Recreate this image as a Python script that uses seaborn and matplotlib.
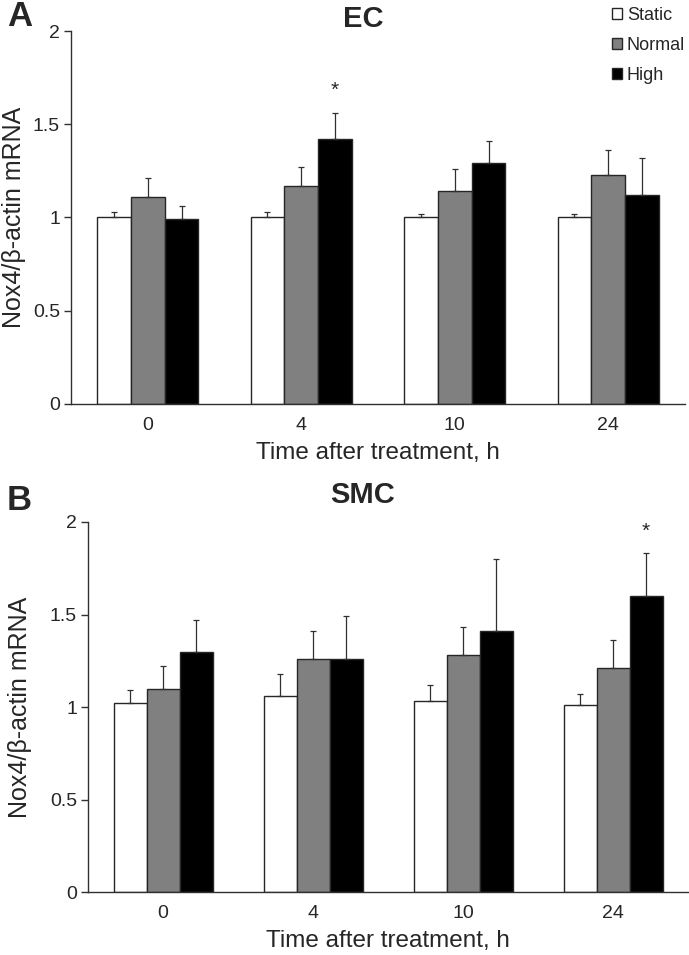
import numpy as np
import pandas as pd
import matplotlib
matplotlib.use("Agg")
import matplotlib.pyplot as plt
import seaborn as sns

# ---- data ----
times = ["0", "4", "10", "24"]
groups = ["Static", "Normal", "High"]

ec_static = [1.00, 1.00, 1.00, 1.00]
ec_normal = [1.11, 1.17, 1.14, 1.23]
ec_high = [0.99, 1.42, 1.29, 1.12]
ec_static_err = [0.03, 0.03, 0.02, 0.02]
ec_normal_err = [0.10, 0.10, 0.12, 0.13]
ec_high_err = [0.07, 0.14, 0.12, 0.20]

smc_static = [1.02, 1.06, 1.03, 1.01]
smc_normal = [1.10, 1.26, 1.28, 1.21]
smc_high = [1.30, 1.26, 1.41, 1.60]
smc_static_err = [0.07, 0.12, 0.09, 0.06]
smc_normal_err = [0.12, 0.15, 0.15, 0.15]
smc_high_err = [0.17, 0.23, 0.39, 0.23]

# significance markers: (group, time)
ec_sig = [("High", "4")]
smc_sig = [("High", "24")]

yticks = [0, 0.5, 1, 1.5, 2]
ytick_labels = ["0", "0.5", "1", "1.5", "2"]

colors = ["#ffffff", "#808080", "#000000"]


def make_df(static, normal, high):
    rows = []
    for g, vals in zip(groups, [static, normal, high]):
        for t, v in zip(times, vals):
            rows.append({"time": t, "group": g, "value": v})
    return pd.DataFrame(rows)


sns.set_style("white")
plt.rcParams["font.family"] = ["Liberation Sans", "DejaVu Sans"]

fig = plt.figure(figsize=(6.89, 9.55), dpi=100)
W, H = 689, 955
ax1 = fig.add_axes([71 / W, 1 - 404 / H, 614 / W, 373 / H])
ax2 = fig.add_axes([88 / W, 1 - 892 / H, 600 / W, 370 / H])


def draw(ax, static, normal, high, errs, sig, title, letter, title_y,
         letter_y, ylab_x, legend):
    df = make_df(static, normal, high)
    sns.barplot(data=df, x="time", y="value", hue="group", order=times,
                hue_order=groups, palette=colors, width=0.66,
                edgecolor="#262626", linewidth=1.0, errorbar=None, ax=ax,
                legend=legend)
    for cont, g, err in zip(ax.containers, groups, errs):
        xs = [b.get_x() + b.get_width() / 2 for b in cont]
        ys = [b.get_height() for b in cont]
        ax.errorbar(xs, ys, yerr=[np.zeros(len(err)), err], fmt="none",
                    ecolor="#303030", elinewidth=0.9, capsize=2.5,
                    capthick=0.9, zorder=1)
        for (sg, st) in sig:
            if sg == g:
                i = times.index(st)
                ax.text(xs[i], ys[i] + err[i] + 0.12, "*", ha="center",
                        va="center", fontsize=15)
    ax.set_ylim(0, 2)
    ax.set_xlim(-0.5, 3.5)
    ax.set_yticks(yticks)
    ax.set_yticklabels(ytick_labels, fontsize=14)
    ax.set_xticks(range(len(times)))
    ax.set_xticklabels(times, fontsize=14)
    ax.set_xticks([-0.5, 0.5, 1.5, 2.5, 3.5], minor=True)
    ax.tick_params(axis="x", which="major", length=0, pad=9)
    ax.tick_params(axis="x", which="minor", length=5, width=1,
                   color="#303030", direction="out")
    ax.tick_params(axis="y", length=5, width=1, color="#303030",
                   direction="out", left=True, pad=3)
    for s in ["top", "right"]:
        ax.spines[s].set_visible(False)
    for s in ["left", "bottom"]:
        ax.spines[s].set_color("#303030")
        ax.spines[s].set_linewidth(1)
    ax.set_xlabel("Time after treatment, h", fontsize=17.5, labelpad=6)
    ax.set_ylabel("Nox4/\u03b2-actin mRNA", fontsize=18, va="center")
    bb = ax.get_position()
    ax.yaxis.set_label_coords((ylab_x / W - bb.x0) / bb.width, 0.5)
    fig.text(363 / W, 1 - title_y / H, title, ha="center", va="center",
             fontsize=21, fontweight="bold")
    fig.text(7 / W, 1 - letter_y / H, letter, ha="left", va="center",
             fontsize=25, fontweight="bold")


draw(ax1, ec_static, ec_normal, ec_high,
     [ec_static_err, ec_normal_err, ec_high_err], ec_sig, "EC", "A",
     19, 17, 14, True)
draw(ax2, smc_static, smc_normal, smc_high,
     [smc_static_err, smc_normal_err, smc_high_err], smc_sig, "SMC", "B",
     495, 500, 20, False)

handles, labels = ax1.get_legend_handles_labels()
ax1.get_legend().remove()
fig.legend(handles, labels, loc="upper left",
           bbox_to_anchor=(608 / W, 1 - 3 / H),
           frameon=False, fontsize=13, handlelength=0.6, handleheight=0.6,
           handletextpad=0.25, labelspacing=0.72, borderaxespad=0,
           borderpad=0.2)

fig.savefig("out.png", dpi=100)
